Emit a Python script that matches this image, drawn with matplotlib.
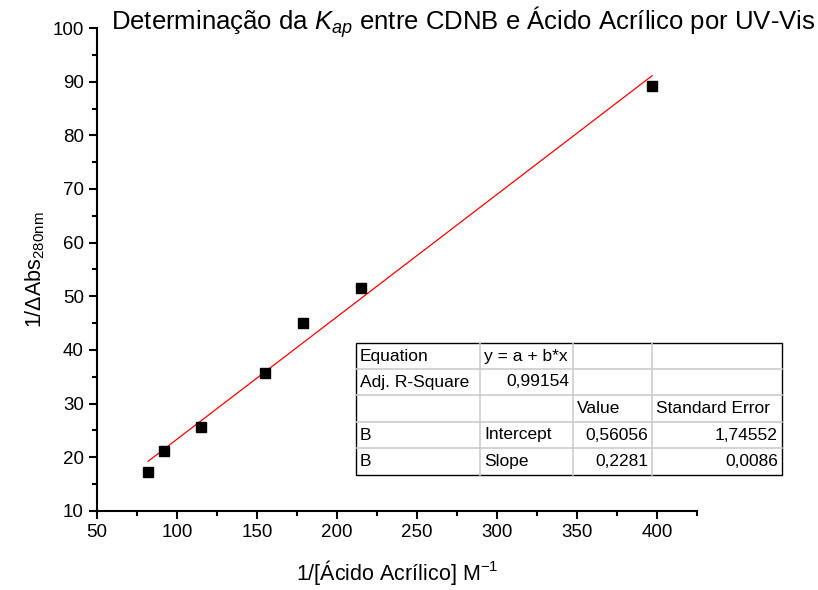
import numpy as np
import matplotlib
matplotlib.use('Agg')
from matplotlib import pyplot as plt
from matplotlib.ticker import MultipleLocator

plt.rcParams['font.family'] = ['Liberation Sans', 'DejaVu Sans']
plt.rcParams['mathtext.fontset'] = 'custom'
plt.rcParams['mathtext.rm'] = 'Liberation Sans'
plt.rcParams['mathtext.it'] = 'Liberation Sans:italic'

# data
inv_acido = [82, 92, 115, 155, 179, 215, 397]
inv_abs = [17.3, 21.2, 25.6, 35.8, 45.1, 51.6, 89.2]
intercept = 0.56056
slope = 0.2281

table_rows = [
    ['Equation', 'y = a + b*x', '', ''],
    ['Adj. R-Square', '0,99154', '', ''],
    ['', '', 'Value', 'Standard Error'],
    ['B', 'Intercept', '0,56056', '1,74552'],
    ['B', 'Slope', '0,2281', '0,0086'],
]

fig = plt.figure(figsize=(8.18, 5.90), dpi=100)
ax = fig.add_axes([0.1186, 0.134, 0.7334, 0.8185])

xfit = np.array([min(inv_acido), max(inv_acido)])
ax.plot(xfit, intercept + slope * xfit, color='red', lw=0.9)
ax.plot(inv_acido, inv_abs, 's', color='black', ms=7.5)

ax.set_xlim(50, 425)
ax.set_ylim(10, 100)
ax.xaxis.set_major_locator(MultipleLocator(50))
ax.xaxis.set_minor_locator(MultipleLocator(25))
ax.yaxis.set_major_locator(MultipleLocator(10))
ax.yaxis.set_minor_locator(MultipleLocator(5))
for s in ['top', 'right']:
    ax.spines[s].set_visible(False)
for s in ['left', 'bottom']:
    ax.spines[s].set_linewidth(1.5)
ax.tick_params(which='major', length=6, width=1.5, labelsize=13.5, direction='out')
ax.tick_params(which='minor', length=3.5, width=1.5, direction='out')

ax.set_xlabel(r'1/[Ácido Acrílico] M$^{-1}$', fontsize=15.5, labelpad=12)
ax.set_ylabel(r'1/$\Delta$Abs$_{\mathregular{280nm}}$', fontsize=15.5, labelpad=4)
fig.text(0.566, 0.962, r'Determinação da $K_{ap}$ entre CDNB e Ácido Acrílico por UV-Vis',
         ha='center', va='center', fontsize=18.5)

# fit results table, in figure pixels
col_x = [356, 480, 573, 652, 782]
row_y = [343, 369, 395, 422, 448, 475]
W, H = 818, 590
aligns = [['left', 'left', 'left', 'left'],
          ['left', 'right', 'left', 'left'],
          ['left', 'left', 'left', 'left'],
          ['left', 'left', 'right', 'right'],
          ['left', 'left', 'right', 'right']]
for yy in row_y[1:-1]:
    fig.add_artist(plt.Line2D([col_x[0] / W, col_x[-1] / W], [1 - yy / H] * 2,
                              color='#cccccc', lw=1.2))
for xx in col_x[1:-1]:
    fig.add_artist(plt.Line2D([xx / W] * 2, [1 - row_y[0] / H, 1 - row_y[-1] / H],
                              color='#cccccc', lw=1.2))
fig.add_artist(plt.Rectangle((col_x[0] / W, 1 - row_y[-1] / H),
                             (col_x[-1] - col_x[0]) / W, (row_y[-1] - row_y[0]) / H,
                             fill=False, edgecolor='black', lw=1.0))
for i, row in enumerate(table_rows):
    yc = 1 - (row_y[i] + row_y[i + 1]) / 2 / H
    for j, txt in enumerate(row):
        if not txt:
            continue
        if aligns[i][j] == 'left':
            xt = (col_x[j] + 4) / W
        else:
            xt = (col_x[j + 1] - 4) / W
        fig.text(xt, yc, txt, ha=aligns[i][j], va='center', fontsize=12.5)

fig.savefig('out.png', dpi=100)
